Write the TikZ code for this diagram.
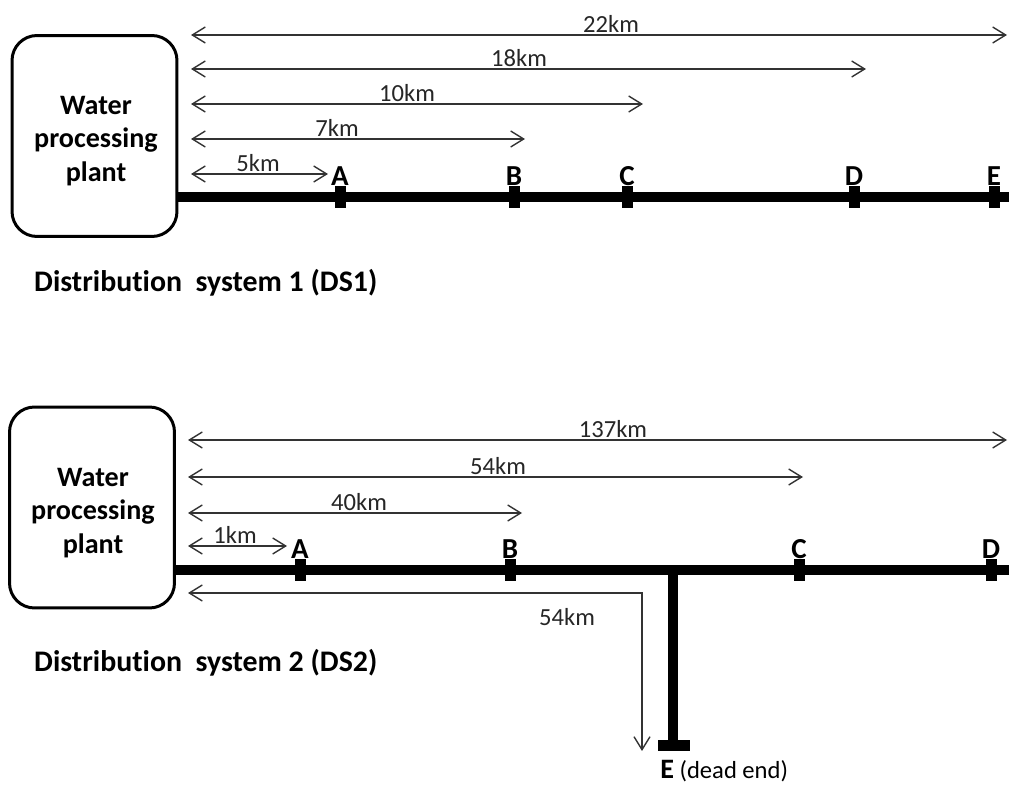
\documentclass[tikz,border=0pt]{standalone}
\usepackage{fontspec}
\setmainfont{Carlito}[Ligatures=NoCommon]
\usepackage{tikz}
\usetikzlibrary{arrows.meta}
\tikzset{
  plant/.style={draw, line width=1.7pt, rounded corners=0.5cm, minimum width=3.3cm,
    minimum height=4.02cm},
  planttext/.style={align=center, inner sep=0pt, font=\fontsize{16}{19}\selectfont\bfseries},
  pipe/.style={line width=5.6pt},
  station/.style={fill=black, inner sep=0pt, minimum width=0.22cm, minimum height=0.44cm},
  stlabel/.style={anchor=south, inner sep=0pt, font=\fontsize{16.5}{19}\selectfont\bfseries},
  dist/.style={draw=black!80, line width=0.8pt},
  distlabel/.style={anchor=south, inner sep=1pt, text=black!85, font=\fontsize{14}{16}\selectfont},
  systitle/.style={anchor=west, font=\fontsize{17}{20}\selectfont\bfseries}
}

\begin{document}
\begin{tikzpicture}[x=0.02cm, y=-0.02cm, >={Straight Barb[length=0.26cm, width=0.32cm]}]
    \useasboundingbox (0,0) rectangle (1009,787);

    % DS1
    \node[plant] (plant1) at (94.5,136) {};
    \node[planttext] (plant1txt) at (96,141) {Water\\processing\\plant};
    \coordinate (p1) at (177,197);
    \coordinate (end1) at (1009,197);
    \draw[pipe] (p1) -- (end1);
    \foreach \name/\x in {A/340, B/514, C/627, D/854, E/994} {
        \node[station] (s1\name) at (\x,197) {};
        \node[stlabel] (l1\name) at (\x,186) {\name};
    }
    \foreach \y/\x/\lx/\d in {35/1007/611/22km, 69/866/519/18km, 104/643/407/10km,
                              139/525/337/7km, 174/328/258/5km} {
        \coordinate (d1l\d) at (191,\y);
        \coordinate (d1r\d) at (\x,\y);
        \draw[dist, <->] (d1l\d) -- (d1r\d);
        \node[distlabel] (t1\d) at (\lx,\y) {\d};
    }
    \node[systitle] (title1) at (28,283) {Distribution\ \ system 1 (DS1)};

    % DS2
    \node[plant] (plant2) at (92,507.5) {};
    \node[planttext] (plant2txt) at (93,513) {Water\\processing\\plant};
    \coordinate (p2) at (174,570);
    \coordinate (end2) at (1009,570);
    \coordinate (junction) at (673,570);
    \draw[pipe] (p2) -- (end2);
    \draw[pipe] (junction) -- (673,745.5);
    \node[station, minimum width=0.64cm, minimum height=0.22cm] (s2E) at (674,745.5) {};
    \foreach \name/\x in {A/300, B/510, C/799, D/991} {
        \node[station] (s2\name) at (\x,570) {};
        \node[stlabel] (l2\name) at (\x,559) {\name};
    }
    \foreach \y/\x/\lx/\d in {440/1007/613/137km, 477/803/498/54km, 513/522/359/40km,
                              546/287/235/1km} {
        \coordinate (d2l\d) at (188,\y);
        \coordinate (d2r\d) at (\x,\y);
        \draw[dist, <->] (d2l\d) -- (d2r\d);
        \node[distlabel] (t2\d) at (\lx,\y) {\d};
    }
    % path to the dead end
    \coordinate (dEl) at (188,593);
    \coordinate (dEc) at (642,593);
    \coordinate (dEb) at (642,751);
    \draw[dist, <->] (dEl) -- (dEc) -- (dEb);
    \node[font=\fontsize{14}{16}\selectfont, text=black!85] (tE) at (567,617) {54km};
    \node[anchor=base west, inner sep=0pt, font=\fontsize{14}{16}\selectfont] (lE) at (660,779)
        {\textbf{\fontsize{16}{19}\selectfont E} (dead end)};
    \node[systitle] (title2) at (28,663) {Distribution\ \ system 2 (DS2)};
\end{tikzpicture}
\end{document}
